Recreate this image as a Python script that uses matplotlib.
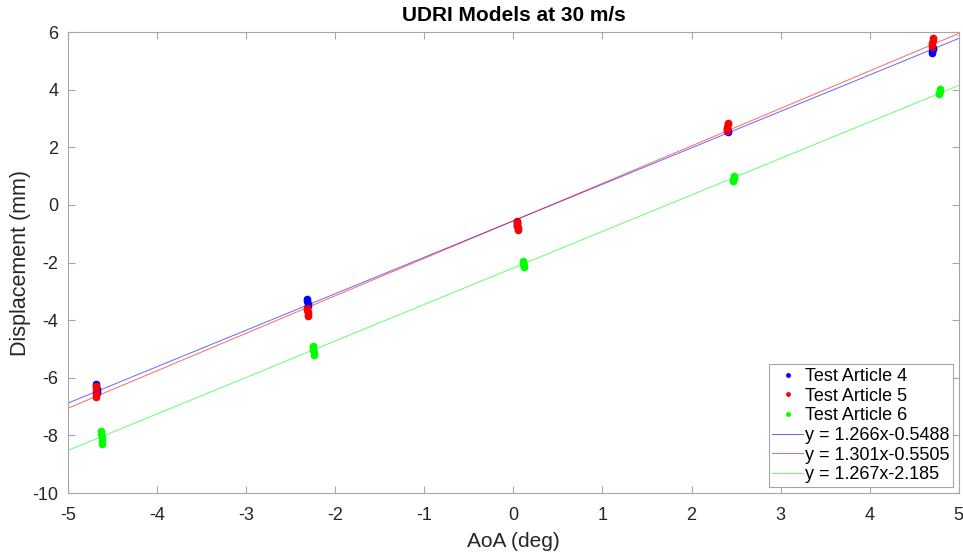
import matplotlib
matplotlib.use("Agg")
import matplotlib.pyplot as plt
import numpy as np

plt.rcParams["font.family"] = ["Liberation Sans", "DejaVu Sans"]
plt.rcParams["axes.unicode_minus"] = False

# repeated displacement readings at each angle of attack
aoa_4 = [-4.68, -4.68, -4.67, -4.67, -4.67,
         -2.32, -2.32, -2.31, -2.31,
         0.04, 0.04, 0.04,
         2.41, 2.41, 2.40,
         4.70, 4.70, 4.71, 4.71]
disp_4 = [-6.22, -6.30, -6.38, -6.45, -6.52,
          -3.28, -3.35, -3.42, -3.50,
          -0.60, -0.66, -0.72,
          2.52, 2.58, 2.64,
          5.28, 5.33, 5.40, 5.45]

aoa_5 = [-4.69, -4.69, -4.68, -4.68, -4.68,
         -2.32, -2.32, -2.31, -2.31, -2.31,
         0.04, 0.04, 0.04, 0.05, 0.05,
         2.40, 2.40, 2.40, 2.41, 2.41,
         4.70, 4.70, 4.70, 4.71, 4.71]
disp_5 = [-6.30, -6.40, -6.50, -6.60, -6.68,
          -3.58, -3.65, -3.72, -3.80, -3.87,
          -0.56, -0.64, -0.72, -0.80, -0.86,
          2.56, 2.64, 2.72, 2.80, 2.86,
          5.48, 5.56, 5.64, 5.72, 5.78]

aoa_6 = [-4.63, -4.63, -4.62, -4.62, -4.62,
         -2.25, -2.25, -2.25, -2.24, -2.24,
         0.11, 0.11, 0.11, 0.12, 0.12,
         2.47, 2.47, 2.48, 2.48,
         4.78, 4.78, 4.79, 4.79]
disp_6 = [-7.85, -7.95, -8.05, -8.15, -8.28,
          -4.90, -4.98, -5.05, -5.12, -5.20,
          -1.95, -2.00, -2.06, -2.12, -2.17,
          0.82, 0.88, 0.94, 1.00,
          3.84, 3.90, 3.96, 4.03]

# linear fits (slope, intercept)
fit_4 = (1.266, -0.5488)
fit_5 = (1.301, -0.5505)
fit_6 = (1.267, -2.185)

fig = plt.figure(figsize=(9.63, 5.54), dpi=100)
ax = fig.add_axes([0.0706, 0.110, 0.925, 0.832])

ax.plot(aoa_4, disp_4, ".", color="#0000ff", ms=9, label="Test Article 4")
ax.plot(aoa_5, disp_5, ".", color="#ff0000", ms=9, label="Test Article 5")
ax.plot(aoa_6, disp_6, ".", color="#00ff00", ms=9, label="Test Article 6")

xf = np.array([-5.0, 5.0])
for (m, b), c in zip([fit_4, fit_5, fit_6], ["#0000ff", "#ff0000", "#00ff00"]):
    ax.plot(xf, m * xf + b, "-", color=c, lw=0.7, alpha=0.6,
            label="y = %gx%g" % (m, b))

ax.set_xlim(-5, 5)
ax.set_ylim(-10, 6)
ax.set_xticks(np.arange(-5, 6, 1))
ax.set_yticks(np.arange(-10, 7, 2))

for s in ax.spines.values():
    s.set_color("#a6a6a6")
    s.set_linewidth(0.8)
ax.tick_params(direction="in", top=True, right=True, length=5, width=0.8,
               color="#a6a6a6", labelcolor="#262626", labelsize=13)
ax.tick_params(axis="x", pad=10)
ax.tick_params(axis="y", pad=7)

ax.set_title("UDRI Models at 30 m/s", fontsize=15, fontweight="bold", pad=8)
ax.set_xlabel("AoA (deg)", fontsize=15, color="#262626", labelpad=6)
ax.set_ylabel("Displacement (mm)", fontsize=15.5, color="#262626", labelpad=1)

leg = ax.legend(loc="lower right", fontsize=13, frameon=True, fancybox=False,
                framealpha=1, edgecolor="#a6a6a6", handlelength=1.7,
                handletextpad=0.1, borderpad=0.2, labelspacing=0.15,
                borderaxespad=0.33)
leg.get_frame().set_linewidth(0.8)
for h in leg.legend_handles[:3]:
    h.set_markersize(5)

fig.savefig("out.png", dpi=100)
